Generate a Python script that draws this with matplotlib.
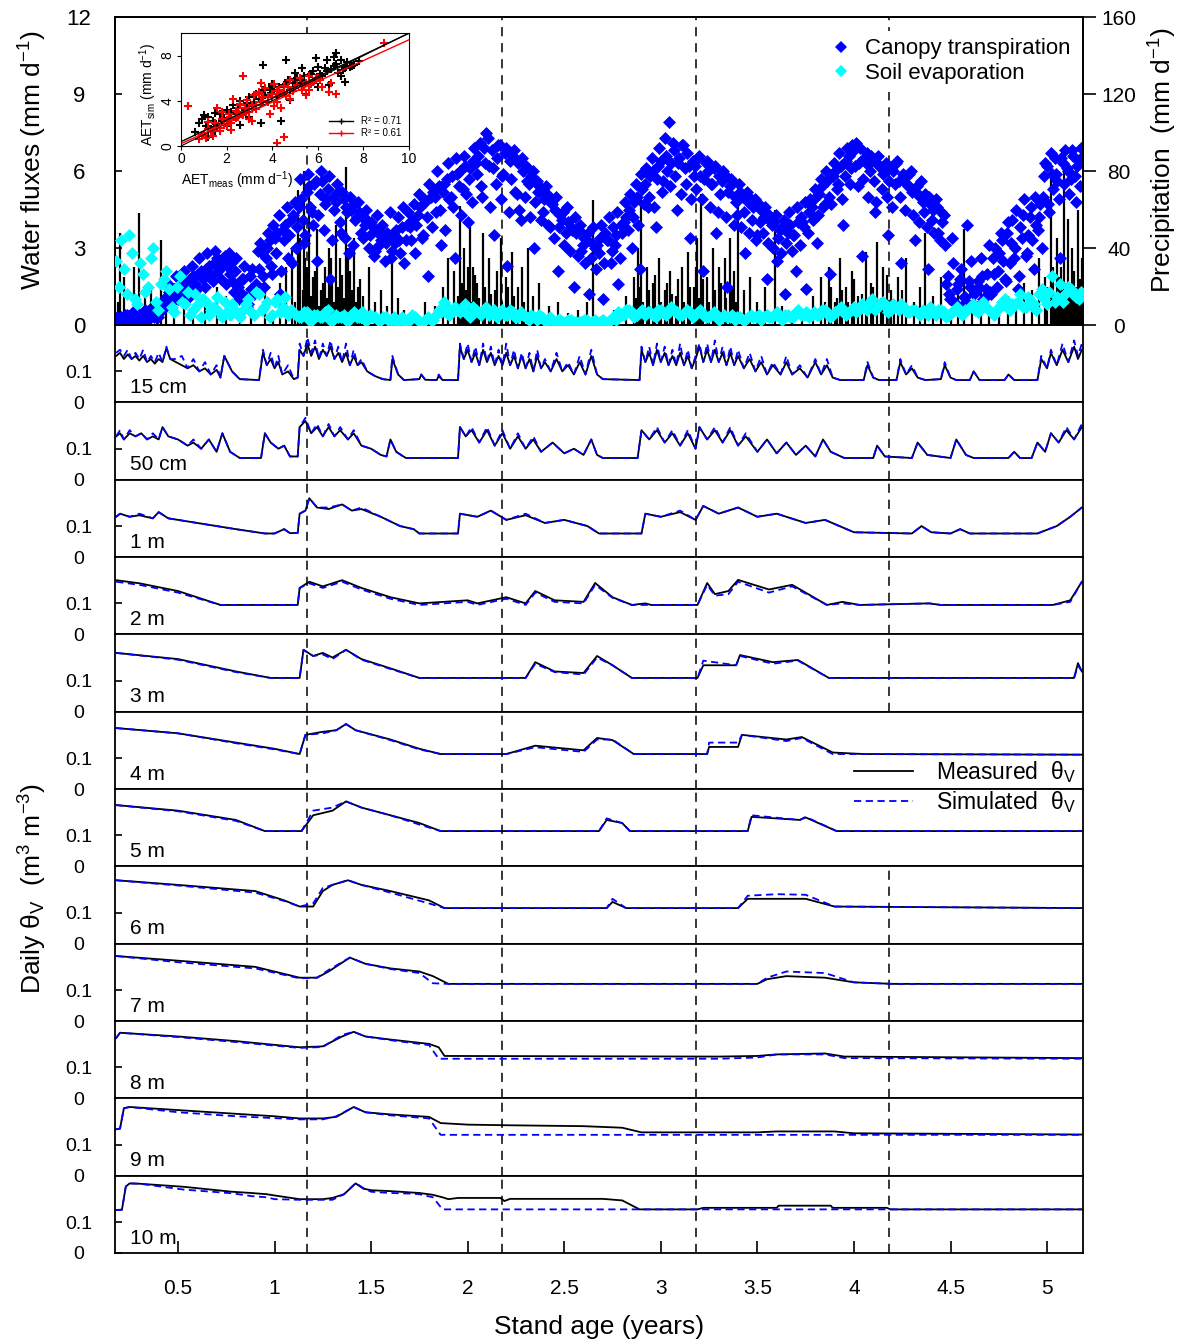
import numpy as np
import matplotlib
matplotlib.use('Agg')
import matplotlib.pyplot as plt
from matplotlib.lines import Line2D

plt.rcParams['font.family'] = ['Liberation Sans', 'DejaVu Sans']
plt.rcParams['mathtext.fontset'] = 'custom'
plt.rcParams['mathtext.rm'] = 'Liberation Sans'
plt.rcParams['mathtext.it'] = 'Liberation Sans:italic'
plt.rcParams['mathtext.default'] = 'regular'

# ---------------- data ----------------
# canopy transpiration (mm/d), one value every 5 days from age 0.18 yr
canopy_et = [
    0.2, 0.1, 0.3, 0.2, 0.4, 0.1, 0.3, 0.5, 0.2, 0.4, 0.3, 0.6, 0.2, 0.5, 0.4, 0.7, 0.3, 0.6, 0.9,
    1.1, 1.3, 0.9, 1.4, 1.5, 1.2, 1.6, 1.7, 1.4, 1.8, 1.9, 1.6, 2.0, 2.1, 1.8, 2.2, 2.3, 1.9, 2.4, 2.6, 2.2, 2.5, 2.7, 2.3,
    2.0, 1.7, 2.1, 1.5, 1.3, 1.8, 1.1, 0.8, 1.4, 1.2, 1.6,
    2.2, 2.8, 1.5, 3.0, 3.3, 2.0, 3.4, 3.6, 1.2, 3.7, 3.9, 2.6, 4.1, 4.3, 3.0,
    4.6, 4.9, 3.2, 5.2, 5.4, 4.4, 5.5, 2.5, 5.1, 5.6, 4.7, 5.3, 1.8, 5.0, 4.8, 5.2, 3.6, 4.9, 4.6, 2.8, 4.5, 4.7, 4.2, 4.4,
    4.2, 3.9, 4.1, 3.5, 3.8, 2.9, 3.6, 3.3, 3.5, 3.2, 3.4, 2.6, 3.5, 3.7, 3.3, 3.8, 2.4, 3.9,
    3.8, 4.1, 2.8, 4.3, 4.6, 3.5, 4.8, 1.9, 5.0, 5.2, 4.4, 5.4, 3.1, 5.5, 5.7, 4.9, 5.8, 2.6, 5.9, 6.0, 5.3, 6.2, 4.0, 6.1, 6.4,
    6.3, 6.6, 5.4, 6.9, 7.5, 6.2, 6.8, 3.5, 6.5, 7.0, 5.8, 6.7, 2.3, 6.4, 6.6, 5.2, 6.3, 4.1, 6.0, 6.2, 5.5, 5.8, 3.0, 5.6, 5.4,
    5.2, 4.9, 5.1, 3.8, 4.7, 4.5, 2.1, 4.3, 4.4, 3.6, 4.0, 3.8, 1.5, 3.6, 3.7, 2.9, 3.4, 3.3, 1.2, 3.2, 3.0,
    3.1, 3.4, 1.0, 3.6, 3.3, 2.4, 3.8, 3.5, 1.6, 3.9, 4.0,
    4.2, 4.5, 3.0, 4.8, 5.0, 2.2, 5.3, 5.5, 4.6, 5.8, 6.0, 3.8, 6.2, 6.4, 5.6, 6.6, 7.9, 6.3, 6.8, 4.5, 6.5, 7.0, 6.1, 6.7, 3.4, 6.4,
    6.2, 6.5, 5.8, 2.1, 6.3, 6.0, 5.5, 6.1, 3.6, 5.8, 5.6, 5.9, 1.5, 5.4, 5.6, 5.0, 4.3, 5.2, 5.0, 2.8, 4.8, 4.9, 4.6, 3.3, 4.7,
    4.5, 4.2, 1.8, 4.3, 3.9, 4.0, 2.5, 3.7, 3.8, 1.2, 3.6, 3.9, 3.5, 2.1, 4.0, 4.2, 3.8, 1.4, 4.4,
    4.6, 4.9, 3.2, 5.1, 5.4, 4.7, 5.6, 2.0, 5.8, 6.0, 5.5, 6.2, 3.9, 6.4, 6.6, 6.1, 6.8, 7.1, 6.3, 2.7, 6.5, 6.7, 6.0, 6.4, 4.4,
    6.6, 6.2, 5.9, 6.3, 3.5, 6.1,
    6.0, 6.3, 5.6, 2.4, 5.8, 5.5, 5.9, 5.2, 3.3, 5.4, 5.0, 4.8, 5.1, 2.2, 4.7, 4.5, 4.9, 3.6, 4.4, 4.3,
    1.6, 1.2, 3.4, 0.9, 1.4, 1.8, 0.7, 1.1, 3.9, 1.5, 0.8, 1.3, 1.7, 2.6, 1.0, 1.4, 3.1, 1.2,
    2.0, 1.5, 2.8, 3.3, 1.8, 3.6, 2.4, 4.1, 3.0, 1.4, 3.8, 4.3, 2.7, 3.5, 4.6, 2.2, 3.9, 4.2,
    3.0, 5.8, 6.2, 4.4, 5.9, 6.5, 5.6, 2.6, 6.3, 6.8, 6.0, 5.7, 6.6, 4.8, 6.4, 6.9,
]
# the days in between (same 5-day step, shifted by 2.5 days)
canopy_et_mid = [
    0.3, 0.2, 0.1, 0.4, 0.3, 0.2, 0.5, 0.3, 0.4, 0.2, 0.5, 0.3, 0.6, 0.4, 0.3, 0.5, 0.8, 0.6, 1.0,
    1.6, 0.8, 1.2, 1.9, 1.0, 1.5, 2.1, 1.3, 1.1, 2.3, 1.6, 1.4, 2.6, 1.9, 1.5, 2.8, 2.0, 1.7, 2.9, 2.1, 1.8, 2.6, 1.6, 2.8,
    2.4, 1.3, 2.6, 1.0, 1.8, 2.3, 0.7, 1.9, 2.2, 1.4, 2.9,
    3.2, 1.9, 2.6, 3.6, 2.3, 3.9, 2.8, 4.3, 2.1, 3.3, 4.6, 3.5, 2.4, 4.8, 3.8,
    5.7, 4.1, 3.5, 5.9, 4.6, 3.9, 5.6, 4.3, 6.0, 3.7, 4.9, 5.8, 3.3, 4.5, 5.5, 4.0, 5.2, 3.4, 4.4, 5.0, 3.1, 4.1, 4.8, 3.6,
    3.4, 4.5, 3.0, 4.0, 2.7, 4.3, 3.1, 3.9, 2.5, 3.6, 4.4, 2.9, 3.2, 4.2, 2.8, 4.6, 3.3, 4.4,
    3.3, 4.7, 3.9, 5.1, 3.4, 4.9, 4.2, 5.5, 3.8, 5.0, 6.0, 4.5, 5.2, 3.7, 6.3, 5.0, 4.6, 6.5, 5.4, 4.3, 6.6, 5.1, 5.7, 4.8, 6.9,
    5.9, 7.1, 5.0, 6.3, 7.3, 4.6, 6.1, 5.5, 7.0, 4.9, 5.9, 6.9, 4.4, 5.7, 6.8, 5.1, 4.5, 6.5, 5.0, 5.6, 4.2, 6.0, 4.8, 5.2, 4.1,
    4.4, 5.4, 3.9, 4.8, 3.4, 5.0, 3.8, 4.1, 3.1, 4.6, 2.9, 3.7, 4.2, 2.7, 3.9, 3.1, 2.4, 3.6, 2.6, 3.8, 2.2,
    2.8, 3.9, 2.4, 3.3, 4.2, 2.9, 3.1, 4.4, 2.6, 3.6, 4.8,
    3.7, 5.1, 4.2, 5.5, 3.9, 5.9, 4.7, 6.1, 5.0, 6.5, 4.6, 5.7, 6.9, 5.2, 7.3, 6.0, 5.4, 7.1, 5.8, 6.3, 5.1, 7.0, 5.5, 6.2, 4.9, 5.8,
    5.3, 6.6, 4.9, 5.7, 6.4, 4.6, 5.5, 6.2, 4.4, 5.1, 6.0, 4.2, 5.2, 5.7, 3.9, 4.8, 5.5, 3.8, 4.4, 5.2, 3.6, 4.1, 4.9, 3.5, 4.0,
    3.6, 4.6, 3.2, 4.0, 3.0, 4.3, 3.4, 2.8, 4.1, 3.2, 4.4, 2.9, 3.5, 4.6, 3.1, 4.0, 4.8, 3.6, 4.9,
    4.1, 5.3, 4.3, 5.7, 4.6, 6.0, 5.0, 4.7, 6.3, 5.3, 6.7, 4.9, 5.8, 6.9, 5.5, 7.0, 6.2, 5.4, 6.9, 5.7, 6.3, 5.0, 6.6, 5.6, 4.8,
    6.2, 5.3, 6.0, 5.0, 5.6, 4.6,
    5.5, 6.4, 5.0, 5.9, 4.5, 5.4, 6.0, 4.3, 5.2, 4.0, 5.6, 4.4, 3.8, 5.0, 4.1, 3.6, 4.6, 3.3, 4.0, 3.1,
    1.9, 1.0, 2.4, 0.8, 1.6, 2.2, 1.1, 0.9, 1.7, 2.5, 1.2, 0.7, 1.5, 1.9, 1.1, 2.0, 1.3, 2.6,
    3.0, 2.1, 3.6, 2.5, 1.7, 4.0, 3.2, 2.6, 4.5, 1.9, 3.4, 4.9, 2.8, 4.2, 3.3, 5.0, 3.7, 4.7,
    5.0, 6.3, 4.7, 6.7, 5.3, 5.9, 4.9, 6.5, 5.5, 6.1, 5.1, 6.8, 5.8, 6.2, 5.4, 6.6,
]

# soil evaporation (mm/d), one value every 10 days from age 0.18 yr, plus the 5-day offsets
soil_evap = [
    2.5, 3.3, 1.2, 2.8, 0.8, 2.0, 1.5, 3.0, 0.6, 1.8,
    1.4, 0.5, 1.9, 0.8, 0.4, 1.2, 0.3, 0.9, 0.6, 1.1, 0.3, 0.5, 0.8, 0.4,
    0.6, 1.0, 0.4, 1.2, 0.7, 0.3, 0.9, 0.5, 1.1, 0.6,
    0.4, 0.3, 0.5, 0.2, 0.4, 0.3, 0.6, 0.2, 0.3, 0.4, 0.2, 0.5, 0.3, 0.2, 0.4, 0.3, 0.2,
    0.3, 0.2, 0.1, 0.3, 0.2, 0.4, 0.2, 0.1, 0.3, 0.2, 0.6, 0.9, 0.4, 0.7,
    0.5, 0.8, 0.3, 0.6, 0.4, 0.7, 0.5, 0.3, 0.6, 0.4, 0.5, 0.3, 0.4, 0.2, 0.3, 0.4,
    0.2, 0.3, 0.1, 0.2, 0.1, 0.2, 0.1, 0.1, 0.2, 0.1, 0.1, 0.2, 0.1, 0.3, 0.5, 0.4, 0.6, 0.3, 0.5, 0.4,
    0.5, 0.3, 0.6, 0.4, 0.7, 0.5, 0.4, 0.6, 0.3, 0.5, 0.4, 0.3, 0.5, 0.2, 0.4, 0.3, 0.2, 0.3, 0.2, 0.4,
    0.3, 0.2, 0.4, 0.3, 0.5, 0.2, 0.4, 0.3, 0.6, 0.4, 0.3, 0.5, 0.4, 0.6, 0.3, 0.5, 0.7, 0.4, 0.6, 0.5,
    0.8, 0.6, 1.0, 0.7, 0.9, 0.5, 0.8, 0.6, 0.7, 0.5, 0.6, 0.4, 0.5, 0.7, 0.4, 0.6, 0.3, 0.5, 0.7, 0.4,
    0.6, 0.8, 0.5, 0.9, 0.6, 0.4, 0.7, 1.0, 0.6, 0.8, 1.2, 0.7, 0.9, 0.6, 1.4, 0.8, 1.9, 1.1, 0.9, 1.5, 1.2, 1.0,
]
soil_evap_mid = [
    1.5, 2.2, 3.5, 1.0, 2.4, 1.3, 2.6, 0.9, 1.6, 2.1,
    0.7, 1.5, 0.9, 1.3, 0.6, 0.8, 1.0, 0.4, 0.7, 0.5, 0.9, 0.4, 0.6, 0.3,
    0.8, 0.5, 1.3, 0.6, 0.9, 0.4, 1.0, 0.7, 0.4, 0.5,
    0.3, 0.5, 0.2, 0.4, 0.3, 0.5, 0.2, 0.4, 0.3, 0.2, 0.4, 0.3, 0.5, 0.2, 0.3, 0.2, 0.3,
    0.2, 0.3, 0.2, 0.1, 0.2, 0.3, 0.1, 0.2, 0.2, 0.4, 0.5, 0.7, 0.5, 0.6,
    0.6, 0.4, 0.7, 0.5, 0.6, 0.4, 0.6, 0.5, 0.4, 0.6, 0.3, 0.5, 0.3, 0.4, 0.2, 0.3,
    0.1, 0.2, 0.2, 0.1, 0.2, 0.1, 0.1, 0.2, 0.1, 0.2, 0.1, 0.1, 0.2, 0.2, 0.4, 0.6, 0.5, 0.4, 0.6, 0.5,
    0.4, 0.6, 0.5, 0.5, 0.6, 0.4, 0.5, 0.5, 0.4, 0.6, 0.3, 0.4, 0.4, 0.3, 0.3, 0.4, 0.3, 0.2, 0.3, 0.3,
    0.4, 0.3, 0.3, 0.4, 0.3, 0.4, 0.3, 0.5, 0.4, 0.5, 0.4, 0.4, 0.6, 0.5, 0.4, 0.6, 0.5, 0.5, 0.7, 0.6,
    0.7, 0.9, 0.6, 0.8, 0.7, 0.6, 0.7, 0.8, 0.5, 0.6, 0.5, 0.6, 0.4, 0.5, 0.6, 0.5, 0.4, 0.6, 0.5, 0.6,
    0.7, 0.6, 0.8, 0.7, 0.5, 0.6, 0.9, 0.7, 0.8, 0.9, 0.7, 1.1, 0.8, 1.2, 1.0, 1.3, 0.9, 1.6, 1.2, 1.4, 1.1, 1.3,
]

# daily precipitation events (stand age, mm)
precip = [
    (0.19, 12), (0.20, 48), (0.22, 25), (0.25, 8), (0.27, 30), (0.30, 58), (0.33, 15), (0.36, 20),
    (0.39, 10), (0.41, 44), (0.44, 18), (0.48, 6), (0.53, 10), (0.58, 8), (0.64, 12), (0.70, 20),
    (0.75, 15), (0.82, 6), (0.88, 10), (0.95, 18), (0.99, 8), (1.03, 22), (1.06, 30), (1.09, 40),
    (1.12, 70), (1.13, 45), (1.15, 80), (1.16, 35), (1.18, 68), (1.20, 25), (1.22, 50), (1.24, 18),
    (1.26, 30), (1.28, 40), (1.30, 22), (1.32, 52), (1.34, 35), (1.37, 82), (1.39, 28), (1.41, 45),
    (1.43, 20), (1.46, 15), (1.49, 30), (1.52, 12), (1.55, 18), (1.58, 10), (1.61, 35), (1.64, 14),
    (1.67, 8), (1.72, 6), (1.78, 12), (1.83, 10), (1.87, 20), (1.90, 35), (1.93, 28), (1.96, 62),
    (1.98, 40), (2.01, 55), (2.03, 30), (2.05, 22), (2.08, 48), (2.11, 35), (2.14, 18), (2.17, 45),
    (2.20, 25), (2.23, 38), (2.26, 20), (2.28, 30), (2.31, 40), (2.34, 15), (2.37, 22), (2.42, 10),
    (2.47, 12), (2.52, 6), (2.57, 8), (2.62, 12), (2.65, 65), (2.70, 5), (2.76, 8), (2.82, 15),
    (2.86, 25), (2.88, 40), (2.90, 68), (2.93, 30), (2.96, 22), (2.99, 35), (3.02, 18), (3.05, 28),
    (3.08, 15), (3.11, 30), (3.14, 38), (3.17, 20), (3.19, 45), (3.21, 68), (3.24, 25), (3.27, 40),
    (3.30, 30), (3.33, 35), (3.36, 45), (3.38, 28), (3.40, 75), (3.43, 18), (3.46, 25), (3.50, 12),
    (3.54, 20), (3.59, 60), (3.63, 10), (3.68, 6), (3.73, 8), (3.79, 15), (3.83, 25), (3.87, 30),
    (3.90, 12), (3.93, 35), (3.96, 20), (3.99, 28), (4.02, 15), (4.06, 38), (4.09, 22), (4.12, 43),
    (4.15, 30), (4.19, 18), (4.23, 25), (4.27, 35), (4.31, 12), (4.34, 20), (4.37, 48), (4.41, 15),
    (4.45, 25), (4.50, 8), (4.54, 18), (4.57, 50), (4.61, 12), (4.66, 20), (4.70, 8), (4.75, 10),
    (4.80, 15), (4.84, 12), (4.88, 22), (4.92, 18), (4.96, 35), (4.99, 25), (5.02, 82), (5.05, 45),
    (5.07, 30), (5.09, 84), (5.11, 55), (5.13, 40), (5.16, 60), (5.18, 35),
    # smaller wet-season showers
    (1.105, 12), (1.125, 25), (1.145, 18), (1.17, 30), (1.19, 15), (1.21, 28), (1.23, 10), (1.25, 22),
    (1.27, 14), (1.29, 35), (1.31, 12), (1.33, 20), (1.35, 26), (1.36, 14), (1.38, 40), (1.40, 18),
    (1.42, 12), (1.44, 24), (1.95, 15), (1.97, 22), (1.99, 18), (2.00, 30), (2.02, 12), (2.04, 26),
    (2.06, 14), (2.09, 20), (2.12, 16), (2.15, 28), (2.18, 12), (2.21, 20), (2.24, 15), (2.29, 12),
    (2.87, 14), (2.89, 20), (2.91, 12), (2.94, 18), (2.97, 26), (3.00, 12), (3.03, 22), (3.06, 16),
    (3.09, 24), (3.12, 12), (3.15, 20), (3.18, 30), (3.20, 14), (3.22, 24), (3.25, 12), (3.28, 18),
    (3.31, 22), (3.34, 14), (3.37, 20), (3.39, 12), (3.85, 12), (3.88, 20), (3.91, 14), (3.94, 18),
    (3.97, 12), (4.00, 24), (4.04, 16), (4.07, 12), (4.10, 20), (4.14, 14), (4.17, 26), (4.21, 12),
    (4.25, 18), (5.00, 20), (5.03, 30), (5.04, 14), (5.06, 25), (5.08, 18), (5.10, 22), (5.12, 16),
    (5.14, 28), (5.15, 20), (5.17, 24),
]

# inset: measured vs simulated AET (mm/d)
aet_meas_1 = [0.6, 0.8, 1.0, 1.0, 1.2, 1.3, 1.5, 1.6, 1.8, 2.0, 2.1, 2.3, 2.4, 2.6, 2.8, 3.0, 3.1, 3.3,
              3.5, 3.6, 3.8, 4.0, 4.2, 4.4, 4.6, 4.8, 5.0, 5.2, 5.4, 5.5, 5.7, 5.9, 6.0, 6.2, 6.4, 6.5,
              6.7, 6.9, 7.0, 7.2, 7.4, 7.6, 3.6, 4.6, 4.0, 2.0, 1.2, 6.8, 5.3, 7.8,
              0.9, 1.1, 1.4, 1.7, 1.9, 2.2, 2.5, 2.7, 2.9, 3.2, 3.4, 3.7, 3.9, 4.1, 4.3, 4.5, 4.7, 4.9,
              5.1, 5.3, 5.6, 5.8, 6.1, 6.3, 6.6, 6.8, 7.1, 7.3, 7.5, 6.0, 6.4, 7.0, 5.0, 4.8, 2.6, 3.0,
              1.5, 5.9, 6.7, 7.2]
aet_sim_1 = [1.2, 2.0, 2.7, 1.0, 2.6, 1.5, 2.9, 1.8, 2.2, 3.2, 2.4, 3.6, 2.8, 4.0, 3.2, 4.3, 3.5, 4.6,
             2.0, 5.0, 4.4, 5.3, 4.6, 2.2, 5.5, 5.0, 5.9, 5.6, 6.2, 4.6, 6.4, 5.8, 7.0, 6.2, 6.6, 5.4,
             7.1, 6.5, 7.6, 6.9, 7.0, 7.2, 7.2, 7.6, 5.5, 1.8, 0.8, 8.2, 6.9, 7.5,
             2.4, 1.8, 2.2, 2.8, 2.5, 3.0, 3.4, 2.9, 3.8, 3.9, 4.2, 4.5, 5.0, 4.9, 5.2, 5.4, 5.8, 5.6,
             6.0, 5.8, 6.3, 6.6, 6.4, 6.9, 6.8, 7.3, 6.7, 7.4, 7.1, 5.2, 7.6, 6.2, 6.5, 4.1, 1.9, 2.6,
             1.3, 7.8, 7.9, 5.7]
aet_meas_2 = [0.3, 0.8, 1.0, 1.2, 1.4, 1.5, 1.7, 1.8, 2.0, 2.1, 2.2, 2.4, 2.5, 2.6, 2.8, 2.9, 3.0, 3.2,
              3.3, 3.4, 3.6, 3.7, 3.8, 4.0, 4.1, 4.2, 4.3, 4.5, 4.6, 4.8, 5.0, 5.2, 5.4, 5.6, 5.8, 6.0,
              6.2, 6.5, 1.6, 2.3, 2.7, 3.1, 3.9, 4.4, 4.2, 4.5, 8.9, 6.8, 5.5, 3.5,
              0.9, 1.1, 1.3, 1.5, 1.7, 1.9, 2.0, 2.2, 2.4, 2.5, 2.7, 2.8, 3.0, 3.1, 3.3, 3.5, 3.6, 3.8,
              4.0, 4.2, 4.3, 4.5, 4.7, 4.9, 5.1, 5.3, 5.5, 5.7, 5.9, 6.1, 1.2, 1.8, 2.6, 3.4, 4.1, 4.8,
              5.6, 3.0, 2.2, 6.6]
aet_sim_2 = [3.5, 0.6, 1.1, 1.5, 0.9, 2.0, 1.6, 2.4, 1.9, 2.8, 2.3, 3.1, 2.6, 3.7, 3.0, 4.1, 3.3, 4.5,
             3.6, 4.8, 4.0, 5.1, 4.3, 4.6, 5.5, 3.9, 5.0, 5.3, 4.4, 5.8, 5.1, 6.0, 5.4, 6.2, 5.7, 6.0,
             5.2, 4.8, 3.4, 4.2, 6.2, 2.2, 2.8, 3.4, 0.3, 0.8, 9.1, 4.6, 4.5, 5.6,
             1.0, 0.7, 1.3, 1.6, 1.3, 1.9, 2.3, 2.0, 2.5, 3.0, 2.7, 3.4, 3.0, 3.6, 3.3, 3.9, 4.3, 3.9,
             4.3, 4.9, 4.5, 4.8, 5.2, 4.9, 5.4, 5.0, 5.6, 5.5, 6.0, 5.8, 2.1, 3.0, 3.6, 4.6, 3.5, 4.2,
             5.0, 2.4, 1.4, 5.6]
fit_1 = (0.38, 0.96)   # intercept, slope
fit_2 = (0.20, 0.92)
r2_labels = ['R² = 0.71', 'R² = 0.61']

# soil water content (stand age, measured, simulated) per depth
theta_15cm = [
    (0.18, .15, .16), (0.20, .16, .17), (0.22, .14, .15), (0.24, .155, .17), (0.26, .14, .14),
    (0.28, .15, .16), (0.30, .135, .14), (0.32, .15, .17), (0.34, .13, .13), (0.36, .14, .15),
    (0.38, .125, .13), (0.40, .14, .16), (0.42, .13, .13), (0.44, .175, .18), (0.46, .14, .14),
    (0.49, .13, .14), (0.52, .12, .15), (0.55, .11, .11), (0.58, .12, .14), (0.61, .10, .10),
    (0.64, .11, .13), (0.67, .09, .09), (0.70, .105, .12), (0.72, .08, .08), (0.74, .15, .15),
    (0.78, .10, .10), (0.82, .075, .075), (0.92, .072, .072), (0.94, .16, .17), (0.96, .12, .12),
    (0.98, .14, .16), (1.00, .11, .11), (1.02, .13, .15), (1.04, .09, .09), (1.07, .10, .12),
    (1.10, .075, .075), (1.12, .08, .08), (1.13, .17, .19), (1.15, .15, .15), (1.17, .19, .21),
    (1.19, .15, .16), (1.21, .18, .20), (1.23, .14, .14), (1.25, .17, .19), (1.27, .15, .15),
    (1.29, .18, .20), (1.31, .14, .14), (1.33, .16, .18), (1.35, .13, .13), (1.37, .16, .19),
    (1.39, .12, .12), (1.41, .15, .17), (1.43, .12, .12), (1.45, .13, .14), (1.48, .10, .10),
    (1.52, .085, .085), (1.56, .075, .075), (1.60, .072, .072), (1.61, .14, .15), (1.64, .09, .09),
    (1.67, .072, .072), (1.75, .075, .075), (1.76, .09, .09), (1.78, .073, .073), (1.84, .072, .072),
    (1.85, .085, .09), (1.87, .072, .072), (1.95, .072, .072), (1.96, .18, .19), (1.98, .14, .14),
    (2.00, .17, .19), (2.02, .13, .13), (2.04, .16, .18), (2.06, .12, .12), (2.08, .17, .19),
    (2.10, .13, .13), (2.12, .16, .18), (2.14, .12, .12), (2.16, .15, .17), (2.18, .12, .12),
    (2.20, .16, .19), (2.22, .12, .12), (2.24, .15, .17), (2.26, .11, .11), (2.28, .15, .16),
    (2.30, .11, .11), (2.32, .14, .16), (2.34, .10, .10), (2.36, .15, .17), (2.38, .11, .11),
    (2.40, .13, .14), (2.43, .10, .10), (2.46, .14, .16), (2.49, .10, .10), (2.52, .12, .13),
    (2.55, .09, .09), (2.58, .13, .15), (2.61, .09, .09), (2.64, .15, .17), (2.67, .09, .09),
    (2.70, .075, .075), (2.89, .072, .072), (2.90, .17, .18), (2.92, .13, .13), (2.94, .16, .18),
    (2.96, .12, .12), (2.98, .17, .19), (3.00, .13, .13), (3.02, .16, .18), (3.04, .12, .12),
    (3.06, .15, .17), (3.08, .12, .12), (3.10, .16, .19), (3.12, .12, .12), (3.14, .15, .17),
    (3.16, .11, .11), (3.18, .14, .15), (3.20, .18, .19), (3.22, .13, .13), (3.24, .17, .19),
    (3.26, .13, .13), (3.28, .17, .20), (3.30, .13, .13), (3.32, .16, .18), (3.34, .12, .12),
    (3.36, .16, .18), (3.38, .12, .12), (3.40, .15, .17), (3.43, .11, .11), (3.46, .14, .16),
    (3.49, .10, .10), (3.52, .13, .15), (3.55, .09, .09), (3.58, .12, .13), (3.62, .09, .09),
    (3.65, .13, .15), (3.68, .09, .09), (3.72, .11, .12), (3.76, .08, .08), (3.80, .13, .14),
    (3.83, .09, .09), (3.86, .12, .14), (3.89, .08, .08), (3.93, .072, .072), (4.05, .072, .072),
    (4.07, .12, .13), (4.10, .08, .08), (4.13, .072, .072), (4.22, .072, .072), (4.24, .13, .14),
    (4.27, .09, .09), (4.30, .11, .12), (4.33, .08, .08), (4.37, .072, .072), (4.45, .075, .075),
    (4.47, .12, .13), (4.50, .08, .08), (4.53, .072, .072), (4.60, .072, .072), (4.62, .10, .10),
    (4.65, .072, .072), (4.78, .072, .072), (4.80, .09, .09), (4.83, .072, .072), (4.95, .072, .072),
    (4.97, .14, .15), (5.00, .11, .11), (5.02, .16, .17), (5.05, .12, .12), (5.08, .17, .19),
    (5.11, .13, .13), (5.14, .18, .20), (5.16, .14, .15), (5.18, .17, .19),
]
theta_50cm = [
    (0.18, .14, .14), (0.20, .15, .16), (0.22, .13, .13), (0.25, .15, .16), (0.28, .14, .14),
    (0.31, .15, .15), (0.34, .13, .13), (0.37, .14, .15), (0.40, .13, .13), (0.42, .17, .17),
    (0.45, .14, .14), (0.50, .13, .13), (0.55, .11, .11), (0.58, .12, .13), (0.62, .10, .10),
    (0.66, .13, .13), (0.70, .09, .09), (0.73, .15, .15), (0.77, .09, .09), (0.82, .07, .07),
    (0.93, .07, .07), (0.95, .15, .15), (0.98, .12, .12), (1.02, .10, .10), (1.05, .11, .11),
    (1.08, .075, .075), (1.12, .075, .075), (1.13, .17, .17), (1.16, .19, .20), (1.19, .15, .15),
    (1.22, .17, .18), (1.25, .14, .14), (1.28, .17, .18), (1.31, .14, .14), (1.34, .16, .17),
    (1.38, .13, .13), (1.41, .15, .16), (1.45, .11, .11), (1.50, .10, .10), (1.55, .08, .08),
    (1.58, .075, .075), (1.60, .13, .13), (1.63, .09, .09), (1.68, .07, .07), (1.95, .07, .07),
    (1.96, .17, .17), (1.99, .14, .14), (2.02, .16, .17), (2.06, .12, .12), (2.10, .16, .17),
    (2.14, .11, .11), (2.18, .15, .16), (2.22, .10, .10), (2.26, .14, .15), (2.30, .10, .10),
    (2.34, .13, .14), (2.38, .09, .09), (2.44, .12, .12), (2.50, .085, .085), (2.55, .10, .10),
    (2.60, .08, .08), (2.64, .13, .13), (2.67, .08, .08), (2.70, .07, .07), (2.88, .07, .07),
    (2.90, .16, .16), (2.94, .13, .13), (2.98, .16, .17), (3.02, .12, .12), (3.06, .15, .16),
    (3.10, .11, .11), (3.14, .15, .16), (3.18, .10, .10), (3.20, .17, .17), (3.24, .13, .13),
    (3.28, .16, .17), (3.32, .12, .12), (3.36, .16, .17), (3.40, .11, .11), (3.44, .14, .15),
    (3.50, .09, .09), (3.55, .13, .13), (3.60, .085, .085), (3.65, .12, .12), (3.70, .08, .08),
    (3.75, .11, .11), (3.80, .075, .075), (3.84, .13, .13), (3.88, .09, .09), (3.95, .07, .07),
    (4.10, .07, .07), (4.12, .11, .11), (4.16, .075, .075), (4.30, .07, .07), (4.33, .12, .12),
    (4.38, .08, .08), (4.50, .07, .07), (4.53, .13, .13), (4.58, .08, .08), (4.62, .07, .07),
    (4.80, .07, .07), (4.83, .09, .09), (4.86, .07, .07), (4.92, .07, .07), (4.95, .12, .12),
    (4.99, .09, .09), (5.02, .15, .15), (5.06, .12, .12), (5.10, .16, .17), (5.14, .13, .13),
    (5.18, .17, .18),
]
theta_1m = [
    (0.18, .13, .13), (0.20, .14, .14), (0.25, .13, .13), (0.30, .135, .14), (0.37, .125, .125),
    (0.40, .145, .145), (0.45, .125, .125), (0.60, .11, .11), (0.80, .09, .09), (0.95, .076, .076),
    (1.00, .076, .076), (1.05, .09, .09), (1.08, .077, .077), (1.12, .078, .078), (1.13, .14, .14),
    (1.16, .15, .15), (1.18, .19, .19), (1.22, .16, .16), (1.28, .155, .16), (1.35, .17, .17),
    (1.40, .15, .15), (1.45, .155, .16), (1.55, .13, .13), (1.65, .10, .10), (1.72, .09, .09),
    (1.75, .076, .076), (1.95, .076, .076), (1.96, .14, .14), (2.05, .13, .13), (2.12, .15, .15),
    (2.20, .12, .12), (2.30, .135, .14), (2.40, .11, .11), (2.50, .12, .12), (2.62, .10, .10),
    (2.68, .076, .076), (2.90, .076, .076), (2.92, .14, .14), (3.00, .13, .13), (3.10, .145, .15),
    (3.18, .12, .12), (3.22, .165, .165), (3.30, .14, .14), (3.40, .16, .16), (3.50, .13, .13),
    (3.60, .14, .14), (3.75, .11, .11), (3.85, .12, .12), (4.00, .08, .08), (4.30, .076, .076),
    (4.35, .10, .10), (4.40, .08, .08), (4.50, .076, .076), (4.55, .09, .09), (4.60, .076, .076),
    (4.95, .076, .076), (5.05, .10, .10), (5.12, .13, .13), (5.18, .16, .16),
]
theta_2m = [
    (0.18, .175, .17), (0.30, .165, .16), (0.50, .14, .135), (0.72, .095, .095), (1.12, .095, .095),
    (1.13, .15, .15), (1.18, .17, .165), (1.25, .155, .15), (1.35, .175, .17), (1.45, .15, .145),
    (1.60, .12, .115), (1.75, .10, .095), (2.00, .11, .105), (2.05, .10, .095), (2.20, .12, .115),
    (2.30, .10, .095), (2.35, .14, .135), (2.45, .11, .105), (2.60, .105, .10), (2.66, .166, .16),
    (2.75, .12, .118), (2.85, .095, .095), (2.92, .10, .095), (2.95, .095, .095), (3.19, .095, .095),
    (3.24, .166, .16), (3.28, .13, .125), (3.35, .14, .13), (3.40, .176, .17), (3.56, .145, .135),
    (3.68, .16, .155), (3.86, .095, .095), (3.94, .105, .10), (4.03, .095, .095), (4.39, .10, .10),
    (4.45, .095, .095), (5.03, .095, .095), (5.12, .11, .105), (5.18, .17, .17),
]
theta_3m = [
    (0.18, .19, .19), (0.50, .17, .168), (0.80, .13, .128), (0.98, .109, .109), (1.13, .109, .109),
    (1.15, .20, .20), (1.20, .18, .18), (1.25, .19, .185), (1.30, .175, .17), (1.37, .20, .20),
    (1.45, .17, .168), (1.60, .14, .138), (1.75, .109, .109), (2.30, .109, .109), (2.35, .16, .155),
    (2.45, .13, .128), (2.60, .125, .12), (2.67, .18, .175), (2.75, .15, .15), (2.85, .109, .109),
    (3.19, .109, .109), (3.22, .15, .165), (3.39, .15, .15), (3.41, .183, .18), (3.58, .16, .155),
    (3.71, .167, .165), (3.87, .109, .109), (5.14, .109, .109), (5.16, .157, .15), (5.18, .13, .13),
]
theta_4m = [
    (0.18, .197, .197), (0.50, .18, .18), (0.80, .15, .148), (1.00, .13, .128), (1.13, .113, .113),
    (1.16, .175, .175), (1.25, .185, .18), (1.32, .19, .19), (1.37, .21, .21), (1.42, .19, .19),
    (1.60, .16, .158), (1.75, .13, .128), (1.86, .113, .113), (2.20, .113, .113), (2.35, .14, .135),
    (2.60, .125, .12), (2.67, .165, .16), (2.75, .158, .16), (2.86, .113, .113), (3.24, .113, .113),
    (3.25, .136, .15), (3.40, .136, .15), (3.42, .175, .175), (3.65, .16, .155), (3.73, .168, .165),
    (3.89, .118, .113), (4.05, .113, .113), (5.18, .111, .111),
]
theta_5m = [
    (0.18, .198, .198), (0.50, .18, .178), (0.80, .15, .147), (0.95, .114, .114), (1.14, .114, .114),
    (1.20, .165, .18), (1.30, .18, .19), (1.37, .21, .21), (1.45, .19, .19), (1.60, .165, .165),
    (1.75, .14, .135), (1.86, .114, .114), (2.68, .114, .114), (2.72, .15, .155), (2.80, .14, .14),
    (2.84, .114, .114), (3.45, .114, .114), (3.47, .16, .165), (3.72, .15, .15), (3.75, .158, .16),
    (3.91, .114, .114), (5.18, .114, .114),
]
theta_6m = [
    (0.18, .205, .205), (0.50, .19, .188), (0.90, .17, .165), (1.05, .14, .138), (1.13, .12, .12),
    (1.20, .12, .13), (1.25, .17, .18), (1.30, .19, .19), (1.38, .205, .205), (1.45, .19, .19),
    (1.60, .17, .165), (1.80, .14, .13), (1.88, .115, .115), (2.72, .115, .115), (2.75, .135, .145),
    (2.82, .115, .115), (3.40, .115, .115), (3.45, .145, .155), (3.60, .145, .16), (3.75, .145, .158),
    (3.90, .12, .12), (5.18, .115, .115),
]
theta_7m = [
    (0.18, .21, .21), (0.50, .195, .19), (0.90, .175, .17), (1.13, .14, .138), (1.22, .14, .14),
    (1.28, .16, .165), (1.39, .205, .205), (1.47, .185, .185), (1.60, .17, .168), (1.75, .16, .155),
    (1.82, .145, .122), (1.90, .12, .12), (3.50, .12, .12), (3.55, .135, .14), (3.65, .145, .16),
    (3.85, .14, .155), (4.00, .125, .125), (4.20, .12, .12), (5.18, .12, .12),
]
theta_8m = [
    (0.18, .195, .195), (0.20, .212, .212), (0.50, .20, .198), (0.80, .185, .182), (1.13, .165, .163),
    (1.25, .168, .166), (1.35, .20, .205), (1.41, .215, .215), (1.47, .20, .20), (1.60, .19, .188),
    (1.80, .176, .172), (1.85, .165, .128), (1.88, .137, .128), (3.30, .135, .128), (3.50, .137, .132),
    (3.60, .142, .142), (3.85, .145, .142), (3.95, .135, .13), (5.18, .13, .128),
]
theta_9m = [
    (0.18, .15, .15), (0.20, .152, .152), (0.22, .218, .218), (0.25, .222, .222), (0.50, .212, .205),
    (0.80, .20, .192), (1.00, .192, .186), (1.13, .185, .182), (1.25, .185, .182), (1.32, .19, .192),
    (1.41, .222, .222), (1.47, .205, .205), (1.60, .198, .195), (1.80, .19, .185), (1.86, .17, .132),
    (2.00, .165, .132), (2.20, .163, .132), (2.60, .16, .132), (2.80, .155, .132), (2.90, .14, .132),
    (3.50, .14, .132), (3.60, .143, .132), (3.90, .143, .132), (4.00, .137, .132), (5.18, .133, .132),
]
theta_10m = [
    (0.18, .139, .139), (0.21, .14, .14), (0.23, .215, .215), (0.25, .225, .225), (0.30, .224, .224),
    (0.53, .214, .205), (0.78, .198, .193), (0.88, .194, .184), (0.96, .19, .18), (1.00, .186, .174),
    (1.13, .174, .172), (1.25, .174, .172), (1.30, .178, .172), (1.36, .19, .19), (1.42, .225, .226),
    (1.46, .208, .21), (1.50, .203, .198), (1.60, .20, .194), (1.70, .196, .192), (1.75, .194, .19),
    (1.82, .188, .18), (1.87, .18, .141), (1.90, .174, .141), (1.95, .178, .141), (2.17, .178, .141),
    (2.19, .168, .141), (2.22, .175, .141), (2.70, .175, .141), (2.80, .17, .141), (2.89, .141, .141),
    (3.19, .141, .141), (3.22, .146, .141), (3.60, .146, .141), (3.61, .153, .141), (3.88, .153, .141),
    (3.89, .146, .141), (4.17, .146, .141), (4.19, .141, .141), (5.18, .141, .141),
]

depth_labels = ['15 cm', '50 cm', '1 m', '2 m', '3 m', '4 m', '5 m', '6 m', '7 m', '8 m', '9 m', '10 m']
depth_series = [theta_15cm, theta_50cm, theta_1m, theta_2m, theta_3m, theta_4m,
                theta_5m, theta_6m, theta_7m, theta_8m, theta_9m, theta_10m]

year_marks = [1.17, 2.18, 3.18, 4.18]
age_ticks = [0.5, 1, 1.5, 2, 2.5, 3, 3.5, 4, 4.5, 5]

# ---------------- layout ----------------
W, H = 1183, 1344
XLIM = (0.174, 5.186)
BLUE, CYAN = '#0000ff', '#00ffff'
DASH = (0, (6, 4.5))


def box(top, bottom, left=115, right=1083):
    return [left / W, 1 - bottom / H, (right - left) / W, (bottom - top) / H]


def center_labels(labels):
    for lab in labels:
        lab.set_ha('center')


fig = plt.figure(figsize=(W / 100, H / 100), dpi=100)

# ---- top panel: fluxes + precipitation ----
ax = fig.add_axes(box(17, 325))
axp = ax.twinx()
ax.set_zorder(axp.get_zorder() + 1)
ax.patch.set_visible(False)

p_t, p_mm = zip(*precip)
axp.vlines(p_t, 0, p_mm, color='black', lw=1.6)
axp.set_ylim(0, 160)
axp.set_yticks([0, 40, 80, 120, 160])
axp.tick_params(axis='y', direction='out', length=9, width=1.2, labelsize=15, pad=17)
center_labels(axp.get_yticklabels())

step5 = 5 / 365.25
canopy_t = 0.18 + np.arange(len(canopy_et)) * step5
canopy_t_mid = 0.18 + (np.arange(len(canopy_et_mid)) + 0.5) * step5
evap_t = 0.18 + np.arange(len(soil_evap)) * 2 * step5
evap_t_mid = 0.18 + (np.arange(len(soil_evap_mid)) + 0.5) * 2 * step5

for x in year_marks:
    ax.axvline(x, color='black', lw=1.1, ls=DASH, zorder=1)
ax.scatter(np.r_[canopy_t, canopy_t_mid], canopy_et + canopy_et_mid,
           marker='D', s=44, color=BLUE, lw=0, zorder=2)
ax.scatter(np.r_[evap_t, evap_t_mid], soil_evap + soil_evap_mid,
           marker='D', s=44, color=CYAN, lw=0, zorder=3)
ax.set_xlim(*XLIM)
ax.set_ylim(0, 12)
ax.set_yticks([0, 3, 6, 9, 12])
ax.set_xticks([])
ax.tick_params(axis='y', direction='in', length=5, width=1.2, labelsize=16, pad=26)
center_labels(ax.get_yticklabels())
for a in (ax, axp):
    for s in a.spines.values():
        s.set_linewidth(1.3)

leg_handles = [Line2D([], [], ls='none', marker='D', ms=6.5, color=BLUE, mew=0),
               Line2D([], [], ls='none', marker='D', ms=6.5, color=CYAN, mew=0)]
leg = ax.legend(leg_handles, ['Canopy transpiration', 'Soil evaporation'], loc='upper right',
                bbox_to_anchor=(1.0, 0.97), fontsize=16, frameon=True, framealpha=1,
                edgecolor='none', fancybox=False, handlelength=0.8, handletextpad=0.7,
                labelspacing=0.15, borderpad=0.35, borderaxespad=0.2)
leg.set_zorder(10)

fig.text(33 / W, 1 - 160 / H, 'Water fluxes (mm d$^{-1}$)', rotation=90,
         ha='center', va='center', fontsize=19)
fig.text(1163 / W, 1 - 160 / H, 'Precipitation  (mm d$^{-1}$)', rotation=90,
         ha='center', va='center', fontsize=19)

# ---- inset: AET scatter ----
ins = fig.add_axes(box(33, 146, 181, 409))
ins.set_zorder(20)
ins.plot(aet_meas_1, aet_sim_1, ls='none', marker='+', ms=5.5, mew=1.5, color='black')
ins.plot(aet_meas_2, aet_sim_2, ls='none', marker='+', ms=5.5, mew=1.5, color='red')
line_x = np.array([0, 10])
ins.plot(line_x, line_x, color='black', lw=0.8)
ins.plot(line_x, fit_1[0] + fit_1[1] * line_x, color='black', lw=1.0)
ins.plot(line_x, fit_2[0] + fit_2[1] * line_x, color='red', lw=1.0)
ins.set_xlim(0, 10)
ins.set_ylim(0, 10)
ins.set_xticks([0, 2, 4, 6, 8, 10])
ins.set_yticks([0, 4, 8])
ins.set_yticklabels(['0', '4', '8'], rotation=90, va='center')
ins.tick_params(direction='out', length=3, labelsize=10, pad=1.5)
ins.set_xlabel('AET$_{meas}$ (mm d$^{-1}$)', fontsize=10, loc='left', labelpad=2)
ins.set_ylabel('AET$_{sim}$ (mm d$^{-1}$)', fontsize=10, loc='bottom', labelpad=1)
ins.legend([Line2D([], [], color='black', marker='+', lw=1, ms=5),
            Line2D([], [], color='red', marker='+', lw=1, ms=5)],
           r2_labels, loc='lower right', fontsize=7, frameon=False,
           handlelength=2.5, labelspacing=0.2, borderaxespad=0.4)

# ---- soil water panels ----
panel_h = (1253 - 325) / len(depth_series)
for i, (label, series) in enumerate(zip(depth_labels, depth_series)):
    top = 325 + i * panel_h
    sub = fig.add_axes(box(top, top + panel_h))
    t, meas, sim = zip(*series)
    marks = year_marks if label not in ('4 m', '5 m') else year_marks[:3]
    for x in marks:
        sub.axvline(x, color='black', lw=1.1, ls=DASH, zorder=1)
    sub.plot(t, meas, color='black', lw=1.3, zorder=2)
    sub.plot(t, sim, color=BLUE, lw=1.3, ls=(0, (4, 2.5)), zorder=3)
    sub.set_xlim(*XLIM)
    sub.set_ylim(0, 0.25)
    sub.set_yticks([0, 0.1])
    sub.set_yticklabels(['0', '0.1'])
    sub.tick_params(axis='y', direction='in', length=5, width=1.2, labelsize=14, pad=26)
    center_labels(sub.get_yticklabels())
    sub.text(0.0155, 0.19, label, transform=sub.transAxes, fontsize=15, va='center', ha='left')
    for s in sub.spines.values():
        s.set_linewidth(1.3)
    if i == len(depth_series) - 1:
        sub.set_xticks(age_ticks)
        sub.set_xticklabels(['0.5', '1', '1.5', '2', '2.5', '3', '3.5', '4', '4.5', '5'])
        sub.tick_params(axis='x', direction='in', length=9, width=1.2, labelsize=15, pad=19)
    else:
        sub.set_xticks([])

fig.text(33 / W, 1 - 888 / H, 'Daily θ$_V$  (m$^3$ m$^{-3}$)', rotation=90,
         ha='center', va='center', fontsize=19)
fig.text(599 / W, 1 - 1327 / H, 'Stand age (years)', ha='center', va='center', fontsize=19)

fig.legend([Line2D([], [], color='black', lw=1.3),
            Line2D([], [], color=BLUE, lw=1.3, ls=(0, (4, 2.5)))],
           ['Measured  θ$_V$', 'Simulated  θ$_V$'], loc='upper right',
           bbox_to_anchor=(1097 / W, 1 - 738 / H), fontsize=16.5, frameon=False,
           handlelength=2.6, handletextpad=1.0, labelspacing=0.2)

fig.savefig('out.png', dpi=100)
